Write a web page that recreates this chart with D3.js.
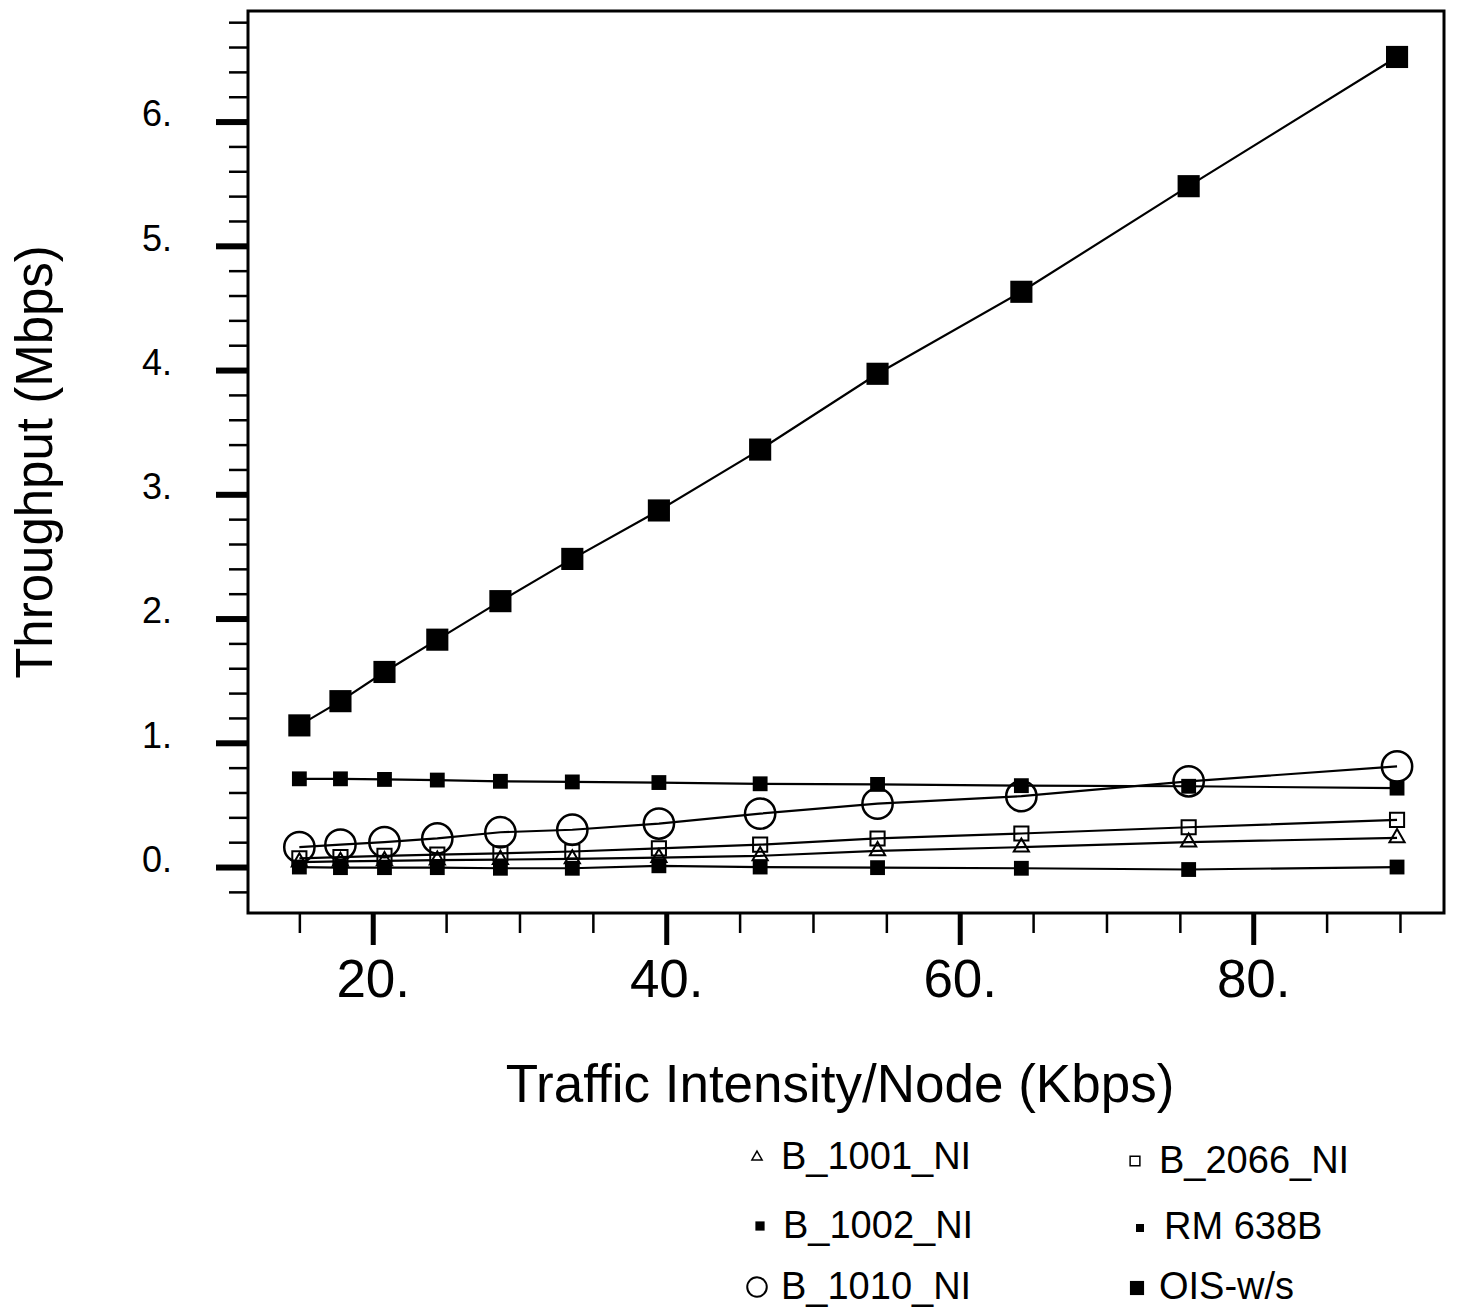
<!DOCTYPE html>
<html>
<head>
<meta charset="utf-8">
<script src="https://cdn.jsdelivr.net/npm/d3@7"></script>
<style>
  html, body { margin: 0; padding: 0; background: #fff; }
  svg { display: block; font-family: "Liberation Sans", Arial, Helvetica, sans-serif; }
</style>
</head>
<body>
<svg id="chart" width="1461" height="1309"></svg>
<script>
// ---- Data ----
const trafficKbps = [15, 17.8, 20.8, 24.4, 28.7, 33.6, 39.5, 46.4, 54.4, 64.2, 75.6, 89.8];
const seriesNames = ["B_1001_NI", "B_2066_NI", "B_1002_NI", "RM 638B", "B_1010_NI", "OIS-w/s"];
const b1001 = [0.04, 0.045, 0.05, 0.055, 0.06, 0.065, 0.075, 0.09, 0.13, 0.16, 0.20, 0.235];
const b2066 = [0.07, 0.08, 0.09, 0.10, 0.11, 0.125, 0.15, 0.18, 0.23, 0.27, 0.32, 0.38];
const b1002 = [0.0, -0.005, -0.005, -0.005, -0.01, -0.01, 0.01, 0.0, -0.005, -0.01, -0.02, 0.0];
const rm638b = [0.71, 0.71, 0.705, 0.70, 0.69, 0.685, 0.68, 0.67, 0.665, 0.655, 0.65, 0.635];
const b1010 = [0.16, 0.18, 0.20, 0.23, 0.28, 0.30, 0.35, 0.43, 0.51, 0.57, 0.69, 0.81];
const oisws = [1.14, 1.335, 1.57, 1.83, 2.14, 2.48, 2.87, 3.36, 3.97, 4.63, 5.48, 6.52];
const xMajorTicks = [20, 40, 60, 80];
const xMinorTicks = [15, 25, 30, 35, 45, 50, 55, 65, 70, 75, 85, 90];
const yMajorTicks = [0, 1, 2, 3, 4, 5, 6];
const yMinorTicks = [-0.2, 0.2, 0.4, 0.6, 0.8, 1.2, 1.4, 1.6, 1.8, 2.2, 2.4, 2.6, 2.8, 3.2, 3.4, 3.6, 3.8, 4.2, 4.4, 4.6, 4.8, 5.2, 5.4, 5.6, 5.8, 6.2, 6.4, 6.6, 6.8];
const xTitle = "Traffic Intensity/Node (Kbps)";
const yTitle = "Throughput (Mbps)";

// ---- Layout ----
const L = 248, R = 1444, T = 11, B = 913;
const svg = d3.select("#chart");
const x = d3.scaleLinear().domain([11.5, 93]).range([L, R]);
const y = d3.scaleLinear().domain([-0.37, 6.89]).range([B, T]);

// marker styles per series
const styles = {
  "B_1001_NI": { sym: d3.symbolTriangle, size: 100, fill: "none", sw: 2 },
  "B_2066_NI": { sym: d3.symbolSquare, size: 200, fill: "none", sw: 2 },
  "B_1002_NI": { sym: d3.symbolSquare, size: 220, fill: "#000", sw: 0 },
  "RM 638B":   { sym: d3.symbolSquare, size: 220, fill: "#000", sw: 0 },
  "B_1010_NI": { sym: d3.symbolCircle, size: 720, fill: "none", sw: 2.5 },
  "OIS-w/s":   { sym: d3.symbolSquare, size: 490, fill: "#000", sw: 0 }
};
const seriesValues = {
  "B_1001_NI": b1001, "B_2066_NI": b2066, "B_1002_NI": b1002,
  "RM 638B": rm638b, "B_1010_NI": b1010, "OIS-w/s": oisws
};

// ---- Axes ----
const yMajor = d3.axisLeft(y).tickValues(yMajorTicks).tickSize(32).tickPadding(44)
  .tickFormat(d => d + ".");
const gy = svg.append("g").attr("transform", `translate(${L},0)`).call(yMajor);
gy.select(".domain").remove();
gy.selectAll(".tick line").attr("stroke", "#000").attr("stroke-width", 6);
gy.selectAll(".tick text").attr("font-size", 36).attr("fill", "#000").attr("dy", "0.12em");

const yMinor = d3.axisLeft(y).tickValues(yMinorTicks).tickSize(19).tickFormat("");
const gy2 = svg.append("g").attr("transform", `translate(${L},0)`).call(yMinor);
gy2.select(".domain").remove();
gy2.selectAll(".tick line").attr("stroke", "#000").attr("stroke-width", 2.5);

const xMajor = d3.axisBottom(x).tickValues(xMajorTicks).tickSize(32).tickPadding(14)
  .tickFormat(d => d + ".");
const gx = svg.append("g").attr("transform", `translate(0,${B})`).call(xMajor);
gx.select(".domain").remove();
gx.selectAll(".tick line").attr("stroke", "#000").attr("stroke-width", 5);
gx.selectAll(".tick text").attr("font-size", 53).attr("fill", "#000");

const xMinor = d3.axisBottom(x).tickValues(xMinorTicks).tickSize(20).tickFormat("");
const gx2 = svg.append("g").attr("transform", `translate(0,${B})`).call(xMinor);
gx2.select(".domain").remove();
gx2.selectAll(".tick line").attr("stroke", "#000").attr("stroke-width", 2.5);

// frame
svg.append("rect").attr("x", L).attr("y", T).attr("width", R - L).attr("height", B - T)
  .attr("fill", "none").attr("stroke", "#000").attr("stroke-width", 3);

// ---- Series ----
const line = d3.line().x((d, i) => x(trafficKbps[i])).y(d => y(d));
const plot = svg.append("g");
seriesNames.forEach(name => {
  plot.append("path").datum(seriesValues[name]).attr("d", line)
    .attr("fill", "none").attr("stroke", "#000").attr("stroke-width", 2.2);
});
seriesNames.forEach(name => {
  const s = styles[name];
  const sym = d3.symbol().type(s.sym).size(s.size);
  plot.append("g").selectAll("path").data(seriesValues[name]).join("path")
    .attr("transform", (d, i) => `translate(${x(trafficKbps[i])},${y(d)})`)
    .attr("d", sym)
    .attr("fill", s.fill)
    .attr("stroke", s.sw ? "#000" : "none")
    .attr("stroke-width", s.sw);
});

// ---- Titles ----
svg.append("text").attr("x", 840).attr("y", 1102).attr("text-anchor", "middle")
  .attr("font-size", 53).attr("fill", "#000").text(xTitle);
svg.append("text").attr("transform", "translate(52,462) rotate(-90)")
  .attr("text-anchor", "middle").attr("font-size", 51).attr("fill", "#000").text(yTitle);

// ---- Legend ----
const legendPos = [
  { name: "B_1001_NI", sx: 757, sy: 1157, tx: 781, ty: 1169, size: 45, sw: 1.5 },
  { name: "B_2066_NI", sx: 1135, sy: 1161, tx: 1159, ty: 1173, size: 95, sw: 1.5 },
  { name: "B_1002_NI", sx: 760, sy: 1226, tx: 783, ty: 1238, size: 85, sw: 0 },
  { name: "RM 638B",   sx: 1140, sy: 1228, tx: 1164, ty: 1239, size: 65, sw: 0 },
  { name: "B_1010_NI", sx: 757, sy: 1287, tx: 781, ty: 1299, size: 300, sw: 2 },
  { name: "OIS-w/s",   sx: 1137, sy: 1288, tx: 1159, ty: 1299, size: 200, sw: 0 }
];
const lg = svg.append("g");
legendPos.forEach(p => {
  const s = styles[p.name];
  lg.append("path").attr("transform", `translate(${p.sx},${p.sy})`)
    .attr("d", d3.symbol().type(s.sym).size(p.size)())
    .attr("fill", s.fill).attr("stroke", p.sw ? "#000" : "none").attr("stroke-width", p.sw);
  lg.append("text").attr("x", p.tx).attr("y", p.ty).attr("font-size", 38)
    .attr("fill", "#000").text(p.name);
});
</script>
</body>
</html>
